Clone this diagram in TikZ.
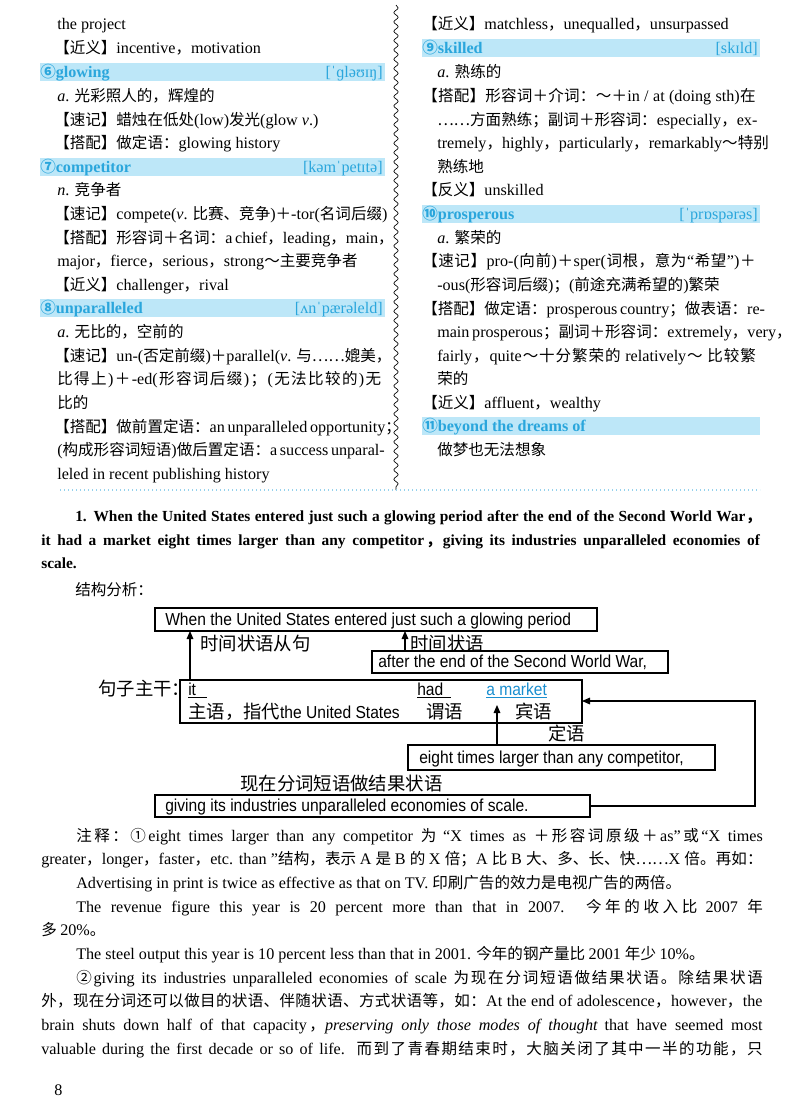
\documentclass[tikz,border=0pt]{standalone}
\usepackage{fontspec}
\usetikzlibrary{decorations.pathmorphing,arrows.meta}
\setmainfont{Liberation Serif}[Scale=1.1]
\newfontfamily\cjk{Noto Sans CJK SC}[Scale=1.06]
\newfontfamily\diag{Liberation Sans}[FakeStretch=0.9]
\def\latinfont{\rmfamily}
\XeTeXinterchartokenstate=1
\newXeTeXintercharclass\CJKcls
\makeatletter
\def\setcls#1#2{\count@=#1\relax\loop\XeTeXcharclass\count@=\CJKcls\ifnum\count@<#2\advance\count@ by 1\repeat}
\makeatother
\setcls{"4E00}{"9FFF}
\setcls{"3000}{"303F}
\setcls{"FF00}{"FFEF}
\setcls{"2460}{"2473}
\XeTeXcharclass"2026=\CJKcls
\XeTeXinterchartoks 0 \CJKcls={\hskip0pt plus 1pt\cjk}
\XeTeXinterchartoks 4095 \CJKcls={\cjk}
\XeTeXinterchartoks \CJKcls 0={\latinfont\hskip0pt plus 1pt}
\XeTeXinterchartoks \CJKcls \CJKcls={\hskip0pt plus 1pt}
\XeTeXinterchartoks 4095 0={\latinfont}
\definecolor{barblue}{HTML}{BDE7F8}
\definecolor{hdblue}{HTML}{2AA6DC}
\definecolor{mkblue}{HTML}{1A8FD0}
\newcommand\J[2]{\hbox to #1pt{#2}}
\begin{document}
\begin{tikzpicture}[x=0.75pt,y=-0.75pt,
  ln/.style={anchor=base west,inner sep=0pt,font=\fontsize{11}{12}\selectfont},
  hd/.style={anchor=base west,inner sep=0pt,font=\fontsize{11}{12}\selectfont\bfseries,text=hdblue},
  ph/.style={anchor=base east,inner sep=0pt,font=\fontsize{11}{12}\selectfont,text=hdblue},
  dg/.style={anchor=base west,inner sep=0pt,font=\fontsize{13}{14}\selectfont\diag\def\latinfont{\diag}},
  bx/.style={draw,line width=0.9pt},
  ar/.style={-{Triangle[length=6pt,width=5pt]},line width=0.8pt}]
\useasboundingbox (0,0) rectangle (800,1115);
\fill[white] (0,0) rectangle (800,1115);
% header bars
\fill[barblue] (40,63) rectangle (385,81);
\fill[barblue] (40,158) rectangle (385,176);
\fill[barblue] (40,299) rectangle (385,317);
\fill[barblue] (422,39) rectangle (760,57);
\fill[barblue] (422,205) rectangle (760,223);
\fill[barblue] (422,417) rectangle (760,435);
% separator
\draw[decorate,decoration={snake,amplitude=1.6pt,segment length=7pt},line width=0.5pt] (396,5) -- (396,490);
\draw[dotted,line width=1pt,color=hdblue!50] (60,490) -- (760,490);
% left column
\node[ln] (l1) at (57,29) {the project};
\node[ln] (l2) at (54,53) {【近义】incentive，motivation};
\node[hd] (h6) at (40,77) {⑥glowing};
\node[ph] (p6) at (383,77) {[ˈɡləʊɪŋ]};
\node[ln] (l3) at (57,101) {\textit{a}. 光彩照人的，辉煌的};
\node[ln] (l4) at (54,125) {【速记】蜡烛在低处(low)发光(glow \textit{v}.)};
\node[ln] (l5) at (54,148) {【搭配】做定语：glowing history};
\node[hd] (h7) at (40,172) {⑦competitor};
\node[ph] (p7) at (383,172) {[kəmˈpetɪtə]};
\node[ln] (l6) at (57,195) {\textit{n}. 竞争者};
\node[ln] (l7) at (54,219) {\J{245}{【速记】compete(\textit{v}. 比赛、竞争)＋-tor(名词后缀)}};
\node[ln] (l8) at (54,243) {\J{245}{【搭配】形容词＋名词：a chief，leading，main，}};
\node[ln] (l9) at (57,266) {major，fierce，serious，strong～主要竞争者};
\node[ln] (l10) at (54,290) {【近义】challenger，rival};
\node[hd] (h8) at (40,313) {⑧unparalleled};
\node[ph] (p8) at (383,313) {[ʌnˈpærəleld]};
\node[ln] (l11) at (57,337) {\textit{a}. 无比的，空前的};
\node[ln] (l12) at (54,361) {\J{245}{【速记】un-(否定前缀)＋parallel(\textit{v}. 与……媲美，}};
\node[ln] (l13) at (57,384) {\J{243}{比得上)＋-ed(形容词后缀)；(无法比较的)无}};
\node[ln] (l14) at (57,408) {比的};
\node[ln] (l15) at (54,432) {\J{245}{【搭配】做前置定语：an unparalleled opportunity；}};
\node[ln] (l16) at (57,455) {\J{243}{(构成形容词短语)做后置定语：a success unparal-}};
\node[ln] (l17) at (57,479) {leled in recent publishing history};
% right column
\node[ln] (r1) at (422,29) {【近义】matchless，unequalled，unsurpassed};
\node[hd] (h9) at (422,53) {⑨skilled};
\node[ph] (p9) at (758,53) {[skɪld]};
\node[ln] (r2) at (437,77) {\textit{a}. 熟练的};
\node[ln] (r3) at (422,101) {\J{250}{【搭配】形容词＋介词：～＋in / at (doing sth)在}};
\node[ln] (r4) at (437,125) {\J{239}{……方面熟练；副词＋形容词：especially，ex-}};
\node[ln] (r5) at (437,148) {\J{239}{tremely，highly，particularly，remarkably～特别}};
\node[ln] (r6) at (437,172) {熟练地};
\node[ln] (r7) at (422,195) {【反义】unskilled};
\node[hd] (h10) at (422,219) {⑩prosperous};
\node[ph] (p10) at (758,219) {[ˈprɒspərəs]};
\node[ln] (r8) at (437,243) {\textit{a}. 繁荣的};
\node[ln] (r9) at (422,266) {\J{250}{【速记】pro-(向前)＋sper(词根，意为“希望”)＋}};
\node[ln] (r10) at (437,290) {-ous(形容词后缀)；(前途充满希望的)繁荣};
\node[ln] (r11) at (422,314) {\J{250}{【搭配】做定语：prosperous country；做表语：re-}};
\node[ln] (r12) at (437,337) {\J{239}{main prosperous；副词＋形容词：extremely，very，}};
\node[ln] (r13) at (437,361) {\J{239}{fairly，quite～十分繁荣的 relatively～ 比较繁}};
\node[ln] (r14) at (437,384) {荣的};
\node[ln] (r15) at (422,408) {【近义】affluent，wealthy};
\node[hd] (h11) at (422,431) {⑪beyond the dreams of};
\node[ln] (r16) at (437,455) {做梦也无法想象};
% sentence
\node[ln,font=\fontsize{10.5}{12}\selectfont\bfseries] (s1) at (75,521) {\J{514}{1. When the United States entered just such a glowing period after the end of the Second World War，}};
\node[ln,font=\fontsize{10.5}{12}\selectfont\bfseries] (s2) at (41,545) {\J{539}{it had a market eight times larger than any competitor，giving its industries unparalleled economies of}};
\node[ln,font=\fontsize{10.5}{12}\selectfont\bfseries] (s3) at (41,568) {scale.};
\node[ln] (jg) at (75,595) {结构分析：};
% diagram
\draw[bx] (155,608) rectangle (597,631);
\node[dg] (b1) at (165,625) {When the United States entered just such a glowing period};
\draw[bx] (372,651) rectangle (668,673);
\node[dg] (b2) at (378,667) {after the end of the Second World War,};
\draw[bx] (180,680) rectangle (582,723);
\node[dg] (zg) at (98,695) {句子主干：};
\node[dg] (it) at (188,695) {\underline{it\hspace{8pt}}};
\node[dg] (had) at (417,695) {\underline{had\hspace{6pt}}};
\node[dg,text=mkblue] (mk) at (486,695) {\underline{a market}};
\node[dg] (zy) at (188,718) {主语，指代the United States};
\node[dg] (wy) at (426,718) {谓语};
\node[dg] (by) at (515,718) {宾语};
\draw[bx] (408,745) rectangle (715,770);
\node[dg] (b3) at (419,763) {eight times larger than any competitor,};
\draw[bx] (155,795) rectangle (590,817);
\node[dg] (b4) at (165,811) {giving its industries unparalleled economies of scale.};
\coordinate (a1s) at (190,680); \coordinate (a1e) at (190,631);
\coordinate (a2s) at (405,651); \coordinate (a2e) at (405,631);
\coordinate (a3s) at (497,745); \coordinate (a3e) at (497,705);
\coordinate (c1) at (590,806); \coordinate (c2) at (755,806); \coordinate (c3) at (755,701); \coordinate (c4) at (582,701);
\draw[ar] (a1s) -- (a1e);
\draw[ar] (a2s) -- (a2e);
\draw[ar] (a3s) -- (a3e);
\draw[ar] (c1) -- (c2) -- (c3) -- (c4);
\node[dg] (t1) at (200,650) {时间状语从句};
\node[dg] (t2) at (410,650) {时间状语};
\node[dg] (t3) at (548,740) {定语};
\node[dg] (t4) at (240,790) {现在分词短语做结果状语};
% notes
\node[ln] (n1) at (76,841) {\J{515}{注释：①eight times larger than any competitor 为 “X times as ＋形容词原级＋as”或“X times}};
\node[ln] (n2) at (41,864) {\J{541}{greater，longer，faster，etc. than ”结构，表示 A 是 B 的 X 倍；A 比 B 大、多、长、快……X 倍。再如：}};
\node[ln] (n3) at (76,888) {Advertising in print is twice as effective as that on TV. 印刷广告的效力是电视广告的两倍。};
\node[ln] (n4) at (76,912) {\J{515}{The revenue figure this year is 20 percent more than that in 2007. 今年的收入比 2007 年}};
\node[ln] (n5) at (41,935) {多 20\%。};
\node[ln] (n6) at (76,959) {The steel output this year is 10 percent less than that in 2001. 今年的钢产量比 2001 年少 10\%。};
\node[ln] (n7) at (76,983) {\J{515}{②giving its industries unparalleled economies of scale 为现在分词短语做结果状语。除结果状语}};
\node[ln] (n8) at (41,1006) {\J{541}{外，现在分词还可以做目的状语、伴随状语、方式状语等，如：At the end of adolescence，however，the}};
\node[ln] (n9) at (41,1030) {\J{541}{brain shuts down half of that capacity，\textit{preserving only those modes of thought} that have seemed most}};
\node[ln] (n10) at (41,1054) {\J{541}{valuable during the first decade or so of life. 而到了青春期结束时，大脑关闭了其中一半的功能，只}};
\node[ln] (pg) at (54,1095) {8};
\end{tikzpicture}
\end{document}
